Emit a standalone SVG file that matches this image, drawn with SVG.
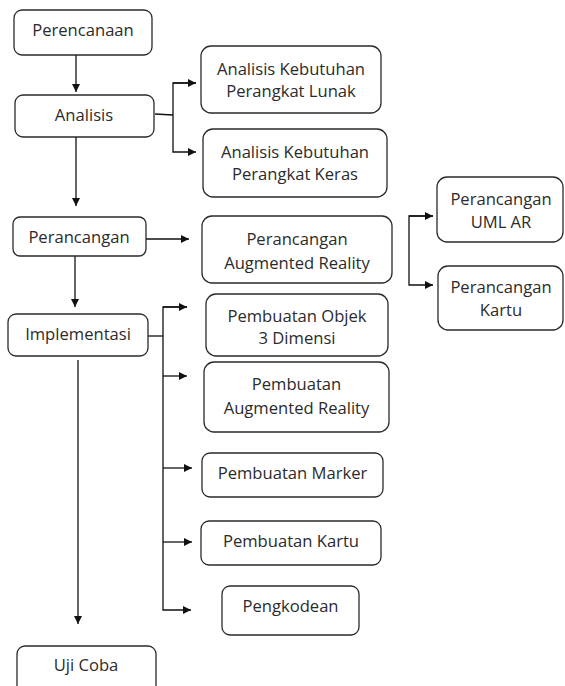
<svg xmlns="http://www.w3.org/2000/svg" width="565" height="686" viewBox="0 0 565 686">
<style>
.box{fill:#fff;stroke:#2a2a2a;stroke-width:1.3}
.t{font-family:"Open Sans","Noto Sans",sans-serif;font-size:16.6px;fill:#2b2b2b;text-anchor:middle}
.c{fill:none;stroke:#111;stroke-width:1.3}
</style>
<defs>
<marker id="ah" viewBox="0 0 10 10" refX="10" refY="5" markerWidth="8" markerHeight="8" markerUnits="userSpaceOnUse" orient="auto">
<path d="M0,0 L10,5 L0,10 Z" fill="#111"/>
</marker>
</defs>
<rect width="565" height="686" fill="#fff"/>
<g id="connectors">
<line class="c" x1="76" y1="55" x2="76" y2="92" marker-end="url(#ah)"/>
<line class="c" x1="76" y1="137" x2="76" y2="206" marker-end="url(#ah)"/>
<line class="c" x1="75" y1="256" x2="75" y2="307" marker-end="url(#ah)"/>
<line class="c" x1="78" y1="360" x2="78" y2="624" marker-end="url(#ah)"/>
<line class="c" x1="155" y1="114" x2="173" y2="115"/>
<path class="c" d="M196,83 H173 V152 H196" marker-end="url(#ah)"/>
<line class="c" x1="173" y1="83" x2="196" y2="83" marker-end="url(#ah)"/>
<line class="c" x1="146" y1="239" x2="189" y2="239" marker-end="url(#ah)"/>
<path class="c" d="M433,216 H409 V285 H433" marker-end="url(#ah)"/>
<line class="c" x1="409" y1="216" x2="433" y2="216" marker-end="url(#ah)"/>
<line class="c" x1="148" y1="336" x2="163" y2="336"/>
<path class="c" d="M187,307 H163 V610 H191" marker-end="url(#ah)"/>
<line class="c" x1="163" y1="307" x2="187" y2="307" marker-end="url(#ah)"/>
<line class="c" x1="163" y1="376" x2="187" y2="376" marker-end="url(#ah)"/>
<line class="c" x1="163" y1="468" x2="192" y2="468" marker-end="url(#ah)"/>
<line class="c" x1="163" y1="542" x2="192" y2="542" marker-end="url(#ah)"/>
</g>
<g id="perencanaan"><rect class="box" x="14" y="10" width="138" height="45" rx="8"/><text class="t" x="83" y="35.5">Perencanaan</text></g>
<g id="analisis"><rect class="box" x="15" y="95" width="139" height="42" rx="8"/><text class="t" x="84" y="120.5">Analisis</text></g>
<g id="akpl"><rect class="box" x="201" y="46" width="180" height="67" rx="10"/><text class="t" x="291" y="74.5">Analisis Kebutuhan</text><text class="t" x="291" y="96.5">Perangkat Lunak</text></g>
<g id="akpk"><rect class="box" x="203" y="129" width="184" height="68" rx="10"/><text class="t" x="295" y="157.5">Analisis Kebutuhan</text><text class="t" x="295" y="180">Perangkat Keras</text></g>
<g id="perancangan"><rect class="box" x="13" y="217" width="133" height="39" rx="7"/><text class="t" x="79" y="242.5">Perancangan</text></g>
<g id="perancangan-ar"><rect class="box" x="202" y="216" width="190" height="67" rx="10"/><text class="t" x="297" y="245">Perancangan</text><text class="t" x="297" y="268.5">Augmented Reality</text></g>
<g id="perancangan-uml"><rect class="box" x="437" y="177" width="126" height="65" rx="10"/><text class="t" x="501" y="205">Perancangan</text><text class="t" x="501" y="228">UML AR</text></g>
<g id="perancangan-kartu"><rect class="box" x="438" y="266" width="125" height="64" rx="10"/><text class="t" x="501" y="293">Perancangan</text><text class="t" x="501" y="316">Kartu</text></g>
<g id="implementasi"><rect class="box" x="8" y="314" width="140" height="42" rx="8"/><text class="t" x="78" y="339.5">Implementasi</text></g>
<g id="objek3d"><rect class="box" x="206" y="294" width="182" height="62" rx="10"/><text class="t" x="297" y="322">Pembuatan Objek</text><text class="t" x="297" y="344">3 Dimensi</text></g>
<g id="pembuatan-ar"><rect class="box" x="204" y="362" width="185" height="70" rx="10"/><text class="t" x="296.5" y="390">Pembuatan</text><text class="t" x="296.5" y="413.5">Augmented Reality</text></g>
<g id="marker"><rect class="box" x="202" y="453" width="181" height="44" rx="8"/><text class="t" x="292.5" y="478.5">Pembuatan Marker</text></g>
<g id="kartu"><rect class="box" x="201" y="521" width="180" height="44" rx="8"/><text class="t" x="291" y="547">Pembuatan Kartu</text></g>
<g id="pengkodean"><rect class="box" x="222" y="586" width="137" height="49" rx="8"/><text class="t" x="290.5" y="611.5">Pengkodean</text></g>
<g id="ujicoba"><rect class="box" x="17" y="646" width="139" height="50" rx="8"/><text class="t" x="86" y="671">Uji Coba</text></g>
</svg>
